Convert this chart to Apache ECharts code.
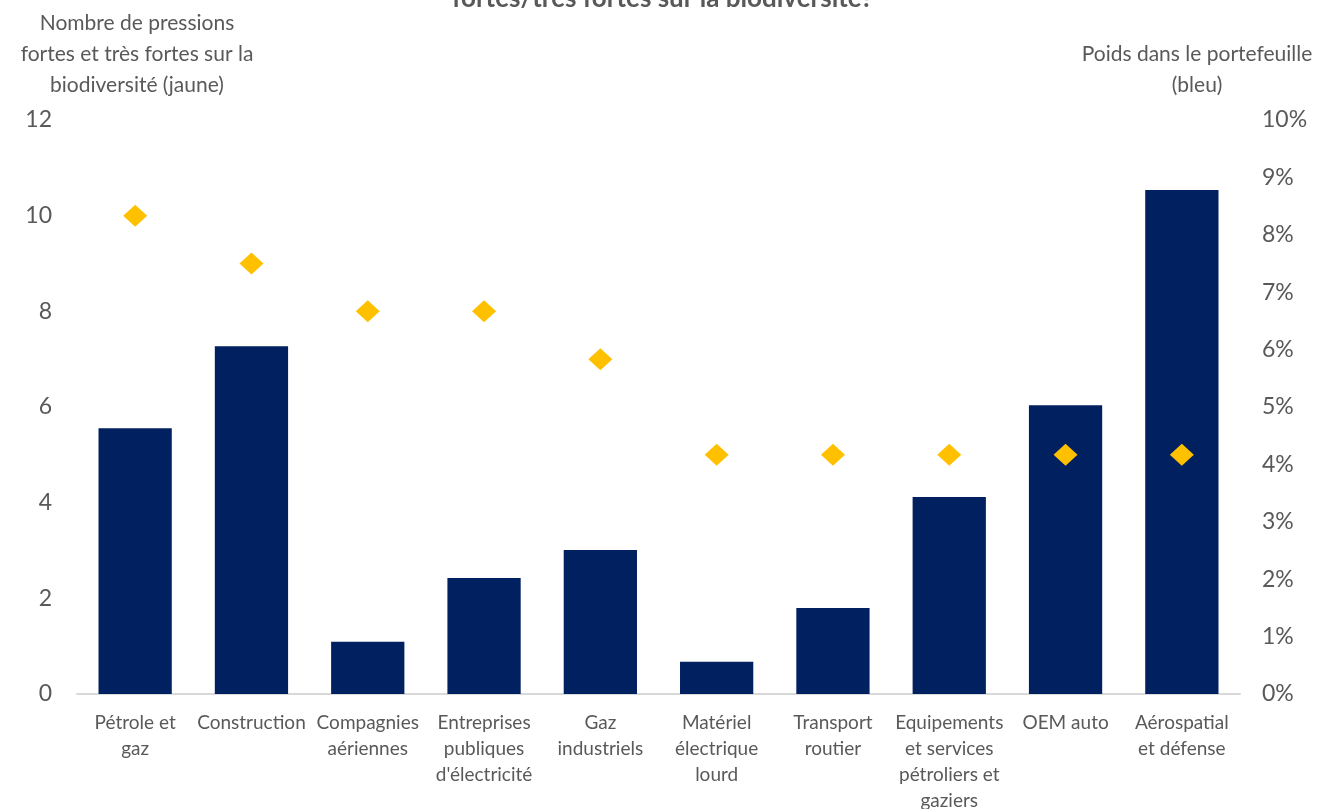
<!DOCTYPE html>
<html>
<head>
<meta charset="utf-8">
<script src="https://cdn.jsdelivr.net/npm/echarts@6/dist/echarts.min.js"></script>
<style>
  html, body { margin: 0; padding: 0; background: #fff; }
  #chart { width: 1325px; height: 809px; }
</style>
</head>
<body>
<div id="chart"></div>
<script>
const categories = [
  'Pétrole et\ngaz', 'Construction', 'Compagnies\naériennes',
  'Entreprises\npubliques\nd\'électricité', 'Gaz\nindustriels',
  'Matériel\nélectrique\nlourd', 'Transport\nroutier',
  'Equipements\net services\npétroliers et\ngaziers', 'OEM auto',
  'Aérospatial\net défense'
]
// poids dans le portefeuille, en %
const weights = [4.63, 6.06, 0.91, 2.02, 2.51, 0.56, 1.50, 3.43, 5.03, 8.78]
// nombre de pressions fortes / très fortes
const pressures = [10, 9, 8, 8, 7, 5, 5, 5, 5, 5]

const font = 'Lato, "Open Sans", sans-serif'
const grey = '#595959'

const chart = echarts.init(document.getElementById('chart'))

chart.setOption({
  backgroundColor: '#fff',
  animation: false,
  textStyle: { fontFamily: font },
  title: {
    text: 'fortes/très fortes sur la biodiversité?',
    left: 'center',
    top: -19,
    textStyle: { fontFamily: font, fontSize: 26, fontWeight: 'bold', color: grey }
  },
  grid: { left: 77, right: 85, top: 120, bottom: 115, outerBoundsMode: 'none', containLabel: false },
  graphic: [
    {
      type: 'text', x: 137, y: 8,
      style: {
        text: 'Nombre de pressions\nfortes et très fortes sur la\nbiodiversité (jaune)',
        font: '21px ' + font, fill: grey, textAlign: 'center', lineHeight: 31
      }
    },
    {
      type: 'text', x: 1197, y: 39,
      style: {
        text: 'Poids dans le portefeuille\n(bleu)',
        font: '21px ' + font, fill: grey, textAlign: 'center', lineHeight: 31
      }
    }
  ],
  xAxis: {
    type: 'category',
    data: categories,
    axisLine: { lineStyle: { color: '#D9D9D9', width: 2 } },
    axisTick: { show: false },
    axisLabel: { color: grey, fontSize: 19, lineHeight: 26, margin: 16, interval: 0 }
  },
  yAxis: [
    {
      type: 'value', min: 0, max: 12, interval: 2,
      splitLine: { show: false },
      axisLine: { show: false },
      axisTick: { show: false },
      axisLabel: { color: grey, fontSize: 23, margin: 25 }
    },
    {
      type: 'value', min: 0, max: 10, interval: 1,
      position: 'right',
      splitLine: { show: false },
      axisLine: { show: false },
      axisTick: { show: false },
      axisLabel: { color: grey, fontSize: 23, margin: 22, formatter: '{value}%' }
    }
  ],
  series: [
    {
      name: 'Poids dans le portefeuille',
      type: 'bar',
      yAxisIndex: 1,
      data: weights,
      barWidth: '63%',
      itemStyle: { color: '#002060' }
    },
    {
      name: 'Nombre de pressions',
      type: 'scatter',
      yAxisIndex: 0,
      data: pressures,
      symbol: 'diamond',
      symbolSize: [24, 22],
      itemStyle: { color: '#FFC000', opacity: 1 },
      z: 5
    }
  ]
})
</script>
</body>
</html>
